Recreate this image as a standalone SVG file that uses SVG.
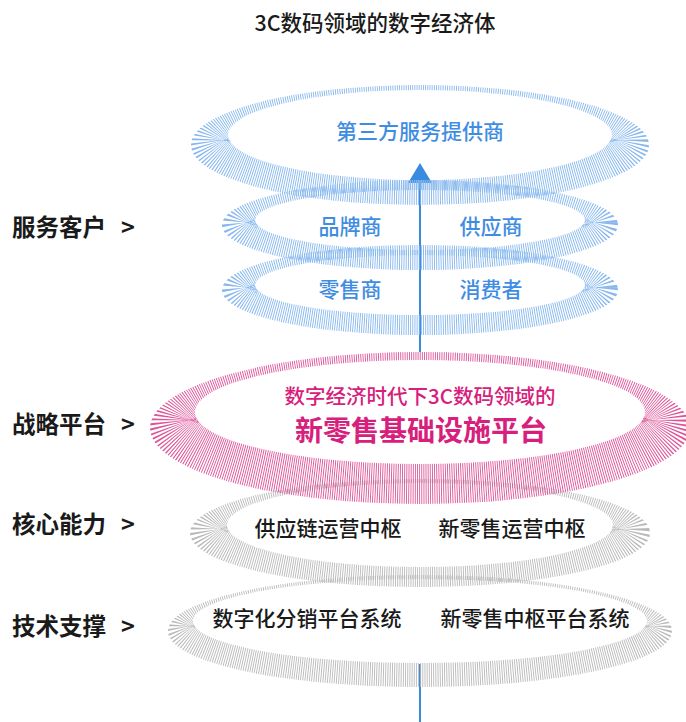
<svg xmlns="http://www.w3.org/2000/svg" width="686" height="722" viewBox="0 0 686 722">
<style>
text{font-family:"Noto Sans CJK SC","Noto Sans",sans-serif;dominant-baseline:central;}
.title{font-size:21.5px;fill:#1a1a1a;font-weight:500;}
.side{font-size:23.5px;fill:#1a1a1a;font-weight:700;}
.blue{font-size:21px;fill:#3f8de2;font-weight:500;text-anchor:middle;}
.pink1{font-size:20.5px;fill:#d6207c;font-weight:500;text-anchor:middle;}
.pink2{font-size:28px;fill:#d6207c;font-weight:700;text-anchor:middle;}
.dark{font-size:21px;fill:#1a1a1a;font-weight:500;text-anchor:middle;}
.hb{fill:none;stroke:#86b7ee;stroke-dasharray:0.9 1.3;}
.hp{fill:none;stroke:#de5499;stroke-dasharray:0.9 1.3;}
.hg{fill:none;stroke:#b9b9b9;stroke-dasharray:0.9 1.3;}
.conn{stroke:#3a8ae0;stroke-width:2;fill:none;}
</style>
<defs>
<clipPath id="c1"><path clip-rule="evenodd" d="M191 145A229 60 0 1 0 649 145A229 60 0 1 0 191 145ZM228 135A192 45 0 1 0 612 135A192 45 0 1 0 228 135Z"/></clipPath>
<clipPath id="c2"><path clip-rule="evenodd" d="M222 225A198 45 0 1 0 618 225A198 45 0 1 0 222 225ZM255 220A165 30 0 1 0 585 220A165 30 0 1 0 255 220Z"/></clipPath>
<clipPath id="c3"><path clip-rule="evenodd" d="M222 290A198 45 0 1 0 618 290A198 45 0 1 0 222 290ZM255 285A165 30 0 1 0 585 285A165 30 0 1 0 255 285Z"/></clipPath>
<clipPath id="c4"><path clip-rule="evenodd" d="M150 428A270 76 0 1 0 690 428A270 76 0 1 0 150 428ZM195 412A225 52 0 1 0 645 412A225 52 0 1 0 195 412Z"/></clipPath>
<clipPath id="c5"><path clip-rule="evenodd" d="M190 533A230 54 0 1 0 650 533A230 54 0 1 0 190 533ZM227 525A193 42 0 1 0 613 525A193 42 0 1 0 227 525Z"/></clipPath>
<clipPath id="c6"><path clip-rule="evenodd" d="M168 631A252 56 0 1 0 672 631A252 56 0 1 0 168 631ZM193 621A227 42 0 1 0 647 621A227 42 0 1 0 193 621Z"/></clipPath>
</defs>
<rect width="686" height="722" fill="#ffffff"/>
<text class="title" x="375" y="21" text-anchor="middle">3C数码领域的数字经济体</text>

<g id="connectors">
<line class="conn" x1="420" y1="182" x2="420" y2="352"/>
<polygon points="420,163 408,183 432,183" fill="#3a8ae0"/>
<line class="conn" x1="420" y1="664" x2="420" y2="722"/>
</g>

<g id="ring-tech">
<ellipse class="hg" clip-path="url(#c6)" cx="420" cy="626" rx="239.5" ry="49" stroke-width="38"/>
<text class="dark" x="307" y="617">数字化分销平台系统</text>
<text class="dark" x="535" y="617">新零售中枢平台系统</text>
</g>
<g id="ring-core">
<ellipse class="hg" clip-path="url(#c5)" cx="420" cy="529" rx="211.5" ry="48" stroke-width="42"/>
<text class="dark" x="328" y="527">供应链运营中枢</text>
<text class="dark" x="512" y="527">新零售运营中枢</text>
</g>
<g id="ring-platform">
<ellipse class="hp" clip-path="url(#c4)" cx="420" cy="420" rx="247.5" ry="64" stroke-width="52"/>
<text class="pink1" x="420" y="395">数字经济时代下3C数码领域的</text>
<text class="pink2" x="421" y="429">新零售基础设施平台</text>
</g>
<g id="ring-retail">
<ellipse class="hb" clip-path="url(#c3)" cx="420" cy="287.5" rx="181.5" ry="37.5" stroke-width="38"/>
<text class="blue" x="350" y="288">零售商</text>
<text class="blue" x="491" y="288">消费者</text>
</g>
<g id="ring-brand">
<ellipse class="hb" clip-path="url(#c2)" cx="420" cy="222.5" rx="181.5" ry="37.5" stroke-width="38"/>
<text class="blue" x="350" y="225">品牌商</text>
<text class="blue" x="491" y="225">供应商</text>
</g>
<g id="ring-service">
<ellipse class="hb" clip-path="url(#c1)" cx="420" cy="140" rx="210.5" ry="52.5" stroke-width="44"/>
<text class="blue" x="420" y="130">第三方服务提供商</text>
</g>

<g id="labels">
<text class="side" x="12" y="226">服务客户<tspan x="121">&gt;</tspan></text>
<text class="side" x="12" y="423">战略平台<tspan x="121">&gt;</tspan></text>
<text class="side" x="12" y="523">核心能力<tspan x="121">&gt;</tspan></text>
<text class="side" x="12" y="625">技术支撑<tspan x="121">&gt;</tspan></text>
</g>
</svg>
